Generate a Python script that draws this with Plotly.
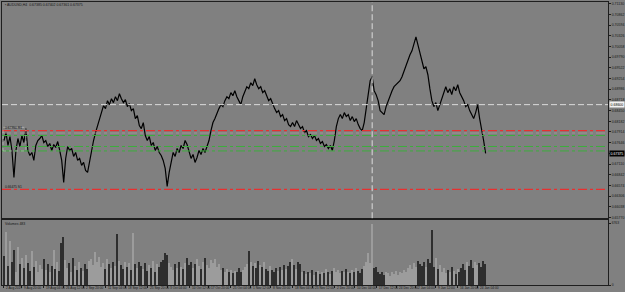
import numpy as np
import plotly.graph_objects as go

# ---------------- data ----------------
symbol_title = "AUDUSD,H4  0.67385 0.67402 0.67361 0.67375"
volume_title = "Volumes 483"

close = [
    0.6770, 0.6790, 0.67575, 0.6780, 0.6745, 0.66775, 0.6745, 0.6775, 0.6755, 0.67825,
    0.6765, 0.6800, 0.6745, 0.67325, 0.6740, 0.6720, 0.67575, 0.6770, 0.6775, 0.67825,
    0.6765, 0.6770, 0.6755, 0.67625, 0.6745, 0.6760, 0.67525, 0.67675, 0.6745, 0.6720,
    0.6665, 0.6725, 0.6755, 0.6745, 0.6750, 0.6730, 0.6740, 0.6720, 0.6725, 0.67075,
    0.6715, 0.6695, 0.6690, 0.6720, 0.6745, 0.6770, 0.6790, 0.68075, 0.6825, 0.6845,
    0.68575, 0.6850, 0.6870, 0.6860, 0.6875, 0.6865, 0.6880, 0.6870, 0.68875, 0.6875,
    0.6865, 0.68725, 0.6855, 0.68625, 0.6845, 0.6850, 0.6825, 0.68325, 0.68075, 0.6800,
    0.6815, 0.67825, 0.6770, 0.6780, 0.67575, 0.6765, 0.6745, 0.6755, 0.6740, 0.67325,
    0.6720, 0.6700, 0.6655, 0.6690, 0.6720, 0.6740, 0.6730, 0.6750, 0.6740, 0.67575,
    0.6750, 0.6770, 0.6760, 0.6745, 0.6725, 0.6735, 0.6715, 0.67275, 0.6745, 0.6735,
    0.6750, 0.6740, 0.6755, 0.6770, 0.6795, 0.6815, 0.6825, 0.6840, 0.6850, 0.6860,
    0.6855, 0.6870, 0.6880, 0.6875, 0.6890, 0.68825, 0.6895, 0.6880, 0.6870, 0.6860,
    0.6880, 0.6895, 0.6905, 0.6900, 0.6915, 0.69075, 0.6925, 0.6910, 0.6900, 0.6905,
    0.6890, 0.6895, 0.6880, 0.6870, 0.6875, 0.6860, 0.6850, 0.6840, 0.6845, 0.6830,
    0.6835, 0.6820, 0.6825, 0.6810, 0.6805, 0.6815, 0.6805, 0.6820, 0.6810, 0.6800,
    0.6805, 0.6790, 0.6795, 0.6780, 0.6785, 0.6775, 0.67825, 0.6770, 0.6775, 0.67625,
    0.67675, 0.6755, 0.6760, 0.6750, 0.67575, 0.6745, 0.6770, 0.6805, 0.6825, 0.6835,
    0.6825, 0.6840, 0.6830, 0.6835, 0.6820, 0.6830, 0.68175, 0.6825, 0.6810, 0.6800,
    0.6795, 0.6815, 0.6850, 0.6880, 0.6920, 0.6930, 0.6895, 0.6885, 0.6870, 0.6845,
    0.6840, 0.6835, 0.6855, 0.6870, 0.6880, 0.6895, 0.6905, 0.6910, 0.6915, 0.6920,
    0.6930, 0.6945, 0.6960, 0.6975, 0.6985, 0.6995, 0.7015, 0.7030, 0.7010, 0.6990,
    0.6965, 0.6950, 0.6955, 0.6935, 0.6900, 0.6870, 0.6855, 0.6865, 0.6845, 0.6860,
    0.6880, 0.6895, 0.6905, 0.6890, 0.6900, 0.6885, 0.6905, 0.6895, 0.6910, 0.6890,
    0.6880, 0.6870, 0.6855, 0.6860, 0.6845, 0.6835, 0.6825, 0.6840, 0.6860, 0.6825,
    0.6800, 0.6770, 0.67375,
]

volume = [
    3200, 5800, 2100, 4800, 2600, 3900, 1500, 4200, 2300, 3000,
    1900, 3300, 2400, 1600, 3800, 2000, 2700, 1500, 2200, 1800,
    2900, 1700, 2300, 1400, 2100, 3900, 1800, 2500, 1600, 4600,
    5300, 2800, 1900, 2400, 1500, 3000, 2100, 1700, 2600, 1900,
    1600, 2300, 1800, 2700, 2900, 2200, 3600, 2600, 3100, 2000,
    2400, 1800, 2900, 2300, 1900, 2500, 2100, 5600, 2700, 2200,
    1800, 2600, 2000, 2400, 1700, 5700, 2300, 1900, 2600, 2100,
    1800, 2400, 1600, 2200, 1900, 2700, 1500, 2300, 2000, 2500,
    2800, 3500, 3300, 2400, 2000, 1700, 2300, 1900, 2600, 2000,
    1800, 2400, 3000, 2200, 2600, 1900, 2300, 2900, 2100, 1800,
    2500, 3000, 2200, 1900, 2800, 2400, 2900, 2000, 2300, 1700,
    1900, 1500, 1800, 1400, 1700, 1300, 1600, 1500, 1900, 1400,
    1700, 2000, 2300, 3700, 2600, 2100, 2400, 1900, 2700, 2200,
    2000, 2500, 1800, 1600, 2100, 1700, 1500, 1900, 1600, 2000,
    1700, 2200, 1800, 2100, 2500, 2900, 2200, 1800, 2600, 2300,
    1400, 1600, 1200, 1500, 1300, 1700, 1100, 1400, 1600, 1200,
    1500, 1300, 1800, 1400, 1200, 1600, 1900, 1500, 1700, 1300,
    1600, 1400, 1800, 1500, 1300, 1700, 1400, 1900, 1600, 1300,
    1800, 2100, 2600, 3500, 2400, 6700, 1900, 2000, 1400, 1200,
    1500, 1100, 1400, 1300, 1000, 1500, 1200, 1600, 1100, 1400,
    1300, 1700, 1500, 1900, 2200, 1800, 2400, 2000, 2700, 2300,
    2100, 2600, 2000, 2900, 2400, 6000, 2000, 3000, 1800, 2200,
    1500, 1900, 1300, 1700, 1400, 2000, 1600, 1200, 1800, 1500,
    1900, 2300, 1700, 2500, 2100, 2800, 1900, 2600, 2200, 2400,
    2000, 2700, 2300,
]

price_ticks = [0.71130, 0.70862, 0.70594, 0.70326, 0.70058, 0.69790, 0.69522,
               0.69254, 0.68986, 0.68718, 0.68450, 0.68182, 0.67914, 0.67646,
               0.67378, 0.67110, 0.66842, 0.66574, 0.66306, 0.66038, 0.65770]

date_labels = ["2 Aug 2019", "9 Aug 20:00", "19 Aug 04:00", "26 Aug 12:00",
               "2 Sep 20:00", "11 Sep 04:00", "18 Sep 12:00", "25 Sep 20:00",
               "3 Oct 04:00", "10 Oct 12:00", "17 Oct 20:00", "25 Oct 04:00",
               "1 Nov 12:00", "8 Nov 20:00", "18 Nov 04:00", "25 Nov 12:00",
               "2 Dec 20:00", "10 Dec 04:00", "17 Dec 12:00", "24 Dec 20:00",
               "2 Jan 04:00", "9 Jan 12:00", "16 Jan 20:00", "24 Jan 04:00"]
date_label_bars = [0, 9, 20, 30, 40, 51, 61, 72, 82, 93, 103, 114,
                   124, 134, 145, 155, 166, 176, 187, 197, 207, 217, 228, 238]

level_white = 0.6860
levels_red = [0.6795, 0.66475]
level_pale = 0.67888
levels_green = [0.67825, 0.6755, 0.67438]
level_label_top = "0.67950 R1"
level_label_bottom = "0.66475 S1"
vline_bar = 185
volume_max = 6763

# ---------------- figure ----------------
bars = np.arange(len(close))
prev = [close[0]] + close[:-1]
vol_colors = ["#9c9c9c" if c > p else "#2e2e2e" for c, p in zip(close, prev)]

BG = "#808080"
TXT = "#161616"
FONT = "Liberation Sans"

fig = go.Figure()
fig.add_trace(go.Scatter(x=bars, y=close, mode="lines",
                         line=dict(color="#000000", width=1.2),
                         xaxis="x", yaxis="y", hoverinfo="skip"))
fig.add_trace(go.Bar(x=bars, y=volume, marker=dict(color=vol_colors, line=dict(width=0)),
                     width=0.75, xaxis="x2", yaxis="y2", hoverinfo="skip"))

H_TOP, H_BOT = 1, 7
plot_h = 292 - H_TOP - H_BOT
main_bottom_px = 218
vol_top_px = 219.5
main_dom = [(285 - main_bottom_px) / plot_h, 1]
vol_dom = [0, (285 - vol_top_px) / plot_h]
vol_h_px = 285 - vol_top_px
vol_range_top = volume_max * vol_h_px / (vol_h_px - 3.5)

xr = [-1, 303.5]
axis_line = dict(showline=True, linecolor="#1e1e1e", linewidth=1, mirror=True,
                 showgrid=False, zeroline=False)

fig.update_layout(
    width=625, height=292,
    margin=dict(l=1, r=15, t=H_TOP, b=H_BOT, pad=0),
    paper_bgcolor=BG, plot_bgcolor=BG,
    showlegend=False, bargap=0,
    font=dict(family=FONT, size=3.5, color=TXT),
    xaxis=dict(domain=[0, 1], range=xr, anchor="y", showticklabels=False,
               ticks="", **axis_line),
    yaxis=dict(domain=main_dom, range=[0.6575, 0.71175], side="right", anchor="x",
               tickmode="array", tickvals=price_ticks,
               ticktext=[f"{v:.5f}" for v in price_ticks],
               ticks="outside", ticklen=2, tickcolor="#1e1e1e", tickwidth=1,
               tickfont=dict(family=FONT, size=3.5, color=TXT), **axis_line),
    xaxis2=dict(domain=[0, 1], range=xr, anchor="y2", matches="x",
                tickmode="array", tickvals=date_label_bars, showticklabels=False,
                ticks="outside", ticklen=2, tickcolor="#1e1e1e", **axis_line),
    yaxis2=dict(domain=vol_dom, range=[0, vol_range_top], side="right", anchor="x2",
                tickmode="array", tickvals=[0, volume_max],
                ticktext=["0", str(volume_max)],
                ticks="outside", ticklen=2, tickcolor="#1e1e1e",
                tickfont=dict(family=FONT, size=3.3, color=TXT), **axis_line),
)

shapes = []
shapes.append(dict(type="line", xref="x domain", x0=0, x1=1, yref="y",
                   y0=level_white, y1=level_white,
                   line=dict(color="#dadada", width=1, dash="6px,3px")))
for lv in levels_red:
    shapes.append(dict(type="line", xref="x domain", x0=0, x1=1, yref="y", y0=lv, y1=lv,
                       line=dict(color="#e83030", width=1.2, dash="dashdot")))
shapes.append(dict(type="line", xref="x domain", x0=0, x1=1, yref="y",
                   y0=level_pale, y1=level_pale,
                   line=dict(color="#a89c9c", width=0.8, dash="dashdot")))
for lv in levels_green:
    shapes.append(dict(type="line", xref="x domain", x0=0, x1=1, yref="y", y0=lv, y1=lv,
                       line=dict(color="#3cae3c", width=1, dash="dashdot")))
shapes.append(dict(type="line", xref="x", x0=vline_bar, x1=vline_bar,
                   yref="y domain", y0=0, y1=1,
                   line=dict(color="#dcdcdc", width=1, dash="6px,3px")))
shapes.append(dict(type="rect", xref="x", x0=-0.5, x1=11, yref="y",
                   y0=levels_green[2], y1=levels_red[0] + 0.0008,
                   line=dict(color="#c6c6c6", width=0.6, dash="dot")))
fig.update_layout(shapes=shapes)

ann = []
ann.append(dict(text="▪ " + symbol_title, xref="paper", yref="paper", x=0.002,
                y=(285 - 4) / plot_h, xanchor="left", yanchor="middle", showarrow=False,
                font=dict(family=FONT, size=3.5, color=TXT)))
ann.append(dict(text=volume_title, xref="paper", yref="paper", x=0.002,
                y=(285 - 223.5) / plot_h, xanchor="left", yanchor="middle", showarrow=False,
                font=dict(family=FONT, size=3.5, color=TXT)))
ann.append(dict(text=level_label_top, xref="paper", yref="y", x=0.002,
                y=levels_red[0] + 0.0007, xanchor="left", yanchor="middle", showarrow=False,
                font=dict(family=FONT, size=3.3, color=TXT)))
ann.append(dict(text=level_label_bottom, xref="paper", yref="y", x=0.002,
                y=levels_red[1] + 0.0006, xanchor="left", yanchor="middle", showarrow=False,
                font=dict(family=FONT, size=3.3, color=TXT)))
ann.append(dict(text=f"{level_white:.5f}", xref="paper", yref="y", x=1, xshift=1,
                y=level_white, xanchor="left", yanchor="middle", showarrow=False,
                bgcolor="#f2f2f2", borderpad=0.6,
                font=dict(family=FONT, size=3.5, color="#000000")))
ann.append(dict(text=f"{close[-1]:.5f}", xref="paper", yref="y", x=1, xshift=1,
                y=close[-1], xanchor="left", yanchor="middle", showarrow=False,
                bgcolor="#000000", borderpad=0.6,
                font=dict(family=FONT, size=3.5, color="#ffffff")))
for b, lab in zip(date_label_bars, date_labels):
    ann.append(dict(text=lab, xref="x2", yref="paper", x=b, xshift=0.5,
                    y=-3.2 / plot_h, xanchor="left", yanchor="middle", showarrow=False,
                    font=dict(family=FONT, size=3.2, color=TXT)))
fig.update_layout(annotations=ann)

fig.write_html("out.html", config={"displayModeBar": False})
